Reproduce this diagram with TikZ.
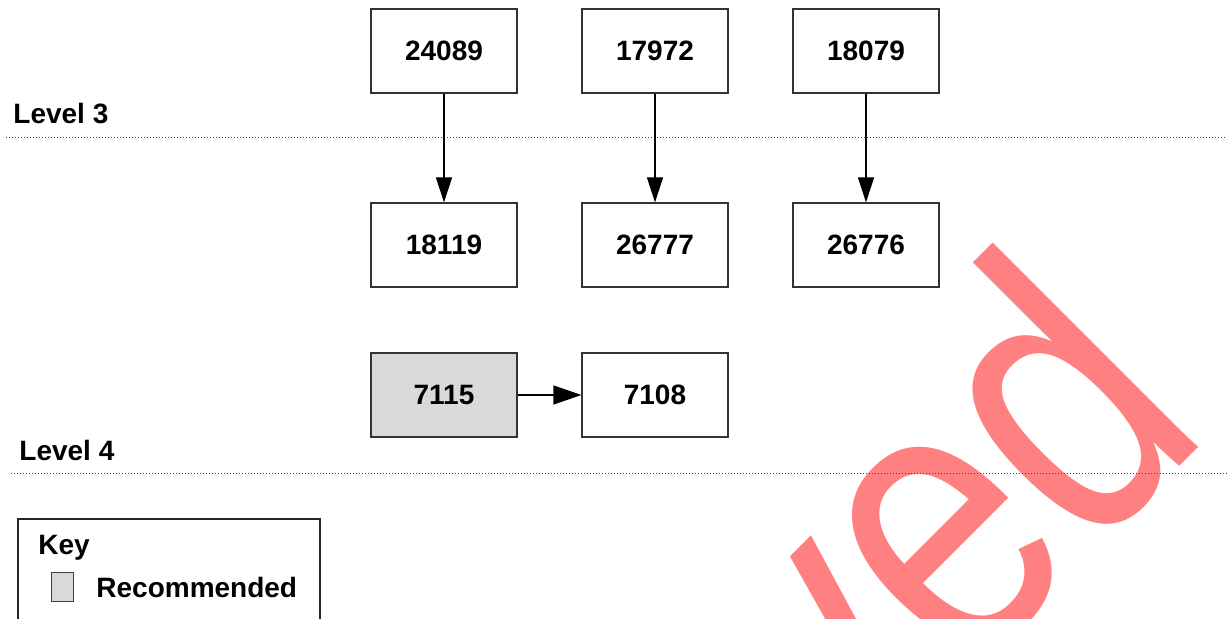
\documentclass[tikz,border=0pt]{standalone}
\usepackage{fontspec}
\setmainfont{Liberation Sans}
\usetikzlibrary{arrows.meta}
\definecolor{wm}{HTML}{FF8080}
\definecolor{recfill}{HTML}{D9D9D9}
\begin{document}
\begin{tikzpicture}[x=0.5pt,y=-0.5pt,
  item/.style={draw=black!80, line width=0.6pt, fill=white, minimum width=73pt, minimum height=42pt, inner sep=0pt, font=\fontsize{14pt}{16pt}\selectfont\bfseries},
  rec/.style={item, fill=recfill},
  lbl/.style={font=\fontsize{14pt}{16pt}\selectfont\bfseries, inner sep=0pt, anchor=base west},
  lvl/.style={black!75, line width=0.5pt, densely dotted},
  link/.style={-{Triangle[length=12.5pt,width=8pt]}, line width=0.6pt, black},
  hlink/.style={-{Triangle[length=14pt,width=9.5pt]}, line width=0.6pt, black}]
\useasboundingbox (0,0) rectangle (1227,619);
\fill[white] (0,0) rectangle (1227,619);
\begin{scope}
\clip (0,0) rectangle (1227,619);
\node[text=wm, rotate=45, anchor=base east, inner sep=0pt, font=\fontsize{200pt}{220pt}\selectfont] (wmark) at (1214,432) {\scalebox{0.8}[1]{ved}};
\draw[black!85, line width=0.6pt] (18,640) -- (18,519) -- (320,519) -- (320,640);
\end{scope}
% level lines
\coordinate (l3a) at (6,138); \coordinate (l3b) at (1227,138);
\coordinate (l4a) at (11,474); \coordinate (l4b) at (1227,474);
\draw[lvl] (l3a) -- (l3b);
\draw[lvl] (l4a) -- (l4b);
\node[lbl] (lev3) at (13,124) {Level 3};
\node[lbl] (lev4) at (19,461) {Level 4};
% nodes
\node[item] (a1) at (444,51) {24089};
\node[item] (a2) at (655,51) {17972};
\node[item] (a3) at (866,51) {18079};
\node[item] (b1) at (444,245) {18119};
\node[item] (b2) at (655,245) {26777};
\node[item] (b3) at (866,245) {26776};
\node[rec] (c1) at (444,395) {7115};
\node[item] (c2) at (655,395) {7108};
\draw[link] (a1) -- (b1);
\draw[link] (a2) -- (b2);
\draw[link] (a3) -- (b3);
\draw[hlink] (c1) -- (c2);
% key
\node[lbl] (keyt) at (38,555) {Key};
\node[draw=black!75, fill=recfill, line width=0.5pt, minimum width=11pt, minimum height=14.5pt, inner sep=0pt] (keysq) at (62,587.5) {};
\node[lbl] (keyr) at (96,598) {Recommended};
\end{tikzpicture}
\end{document}
